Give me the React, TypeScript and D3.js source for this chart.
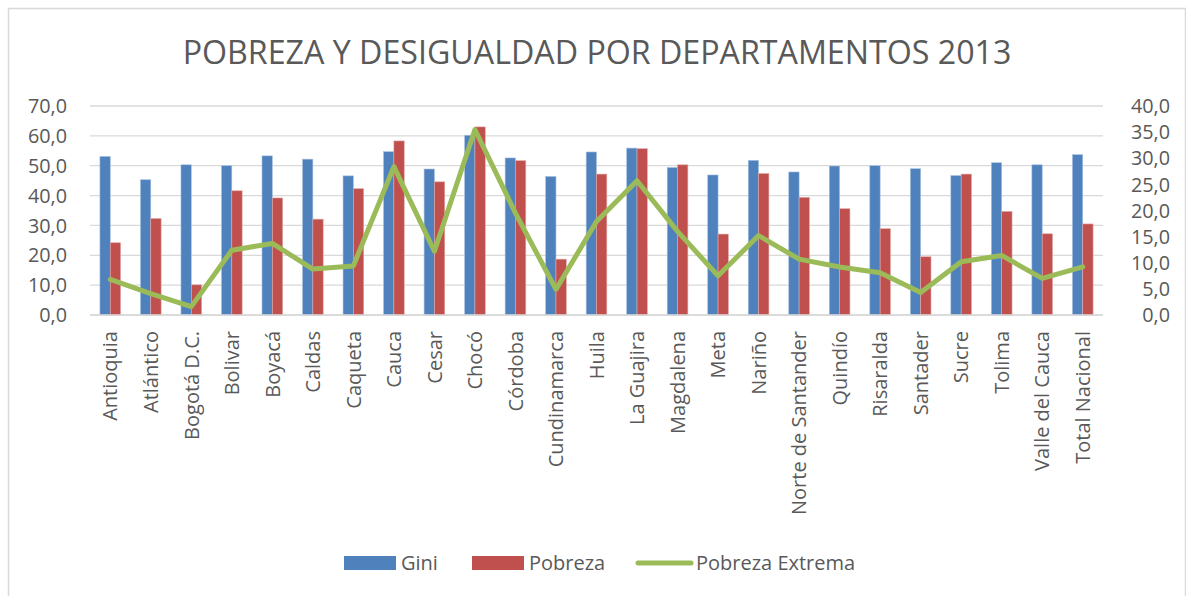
import React from "react";
import * as d3 from "d3";

const categories = [
  "Antioquia", "Atlántico", "Bogotá D.C.", "Bolivar", "Boyacá", "Caldas", "Caqueta",
  "Cauca", "Cesar", "Chocó", "Córdoba", "Cundinamarca", "Huila", "La Guajira",
  "Magdalena", "Meta", "Nariño", "Norte de Santander", "Quindío", "Risaralda",
  "Santader", "Sucre", "Tolima", "Valle del Cauca", "Total Nacional",
];
const gini = [
  53.1, 45.3, 50.3, 50.0, 53.3, 52.2, 46.6, 54.7, 48.9, 60.2, 52.6, 46.4, 54.6,
  55.9, 49.4, 46.9, 51.8, 47.9, 49.9, 50.0, 49.0, 46.7, 51.0, 50.3, 53.7,
];
const pobreza = [
  24.2, 32.3, 10.1, 41.6, 39.2, 32.1, 42.3, 58.3, 44.6, 63.0, 51.7, 18.7, 47.2,
  55.7, 50.3, 27.1, 47.4, 39.4, 35.6, 28.9, 19.5, 47.2, 34.7, 27.2, 30.5,
];
const pobrezaExtrema = [
  6.8, 4.1, 1.6, 12.4, 13.7, 8.8, 9.4, 28.4, 12.2, 35.5, 19.5, 4.9, 17.9, 25.7,
  16.0, 7.5, 15.2, 10.7, 9.2, 8.1, 4.3, 10.2, 11.4, 7.0, 9.2,
];
const leftTicks = [0, 10, 20, 30, 40, 50, 60, 70];
const rightTicks = [0, 5, 10, 15, 20, 25, 30, 35, 40];

const W = 1186;
const H = 596;
const FONT = "'Open Sans', 'Noto Sans', sans-serif";
const TXT = "#595959";
const BLUE = "#4f81bd";
const RED = "#c0504d";
const GREEN = "#9bbb59";

const fmt = (v: number) => v.toFixed(1).replace(".", ",");

export default function App() {
  const x = d3.scaleBand<string>().domain(categories).range([90, 1103]);
  const yL = d3.scaleLinear().domain([0, 70]).range([315, 106]);
  const yR = d3.scaleLinear().domain([0, 40]).range([315, 106]);
  const bw = x.bandwidth() * 0.255;
  const cx = (c: string) => (x(c) as number) + x.bandwidth() / 2;

  const line = d3
    .line<number>()
    .x((_, i) => cx(categories[i]))
    .y((d) => yR(d));

  return (
    <svg width={W} height={H} style={{ display: "block", position: "absolute", left: 0, top: 0 }}>
      <rect x={0} y={0} width={W} height={H} fill="#fff" />
      <rect x={8.5} y={8.5} width={1177} height={600} fill="none" stroke="#d9d9d9" strokeWidth={1.5} />
      <text x={597} y={64} textAnchor="middle" fontFamily={FONT} fontSize={32.2} fill={TXT}>
        POBREZA Y DESIGUALDAD POR DEPARTAMENTOS 2013
      </text>

      {leftTicks.map((t) => (
        <g key={"g" + t}>
          <line x1={90} x2={1103} y1={yL(t)} y2={yL(t)} stroke="#d9d9d9" strokeWidth={1.3} />
          <text x={67} y={yL(t)} dy="0.36em" textAnchor="end" fontFamily={FONT} fontSize={19.8} fill={TXT}>
            {fmt(t)}
          </text>
        </g>
      ))}
      {rightTicks.map((t) => (
        <text key={"r" + t} x={1170} y={yR(t)} dy="0.36em" textAnchor="end" fontFamily={FONT} fontSize={19.8} fill={TXT}>
          {fmt(t)}
        </text>
      ))}

      {categories.map((c, i) => (
        <g key={c}>
          <rect x={cx(c) - bw} y={yL(gini[i])} width={bw} height={yL(0) - yL(gini[i])} fill={BLUE} stroke="#a7c0de" strokeWidth={0.6} />
          <rect x={cx(c)} y={yL(pobreza[i])} width={bw} height={yL(0) - yL(pobreza[i])} fill={RED} stroke="#e0a8a6" strokeWidth={0.6} />
          <text
            transform={`translate(${cx(c)},331) rotate(-90)`}
            dy="0.36em"
            textAnchor="end"
            fontFamily={FONT}
            fontSize={20}
            fill={TXT}
          >
            {c}
          </text>
        </g>
      ))}

      <line x1={90} x2={1103} y1={315} y2={315} stroke="#d9d9d9" strokeWidth={1.5} />

      <path d={line(pobrezaExtrema) ?? ""} fill="none" stroke={GREEN} strokeWidth={5} strokeLinejoin="round" strokeLinecap="round" />

      <g fontFamily={FONT} fontSize={20} fill={TXT}>
        <rect x={344} y={556} width={52} height={14} fill={BLUE} />
        <text x={401} y={563} dy="0.36em">Gini</text>
        <rect x={472} y={556} width={52} height={14} fill={RED} />
        <text x={529} y={563} dy="0.36em">Pobreza</text>
        <line x1={638} x2={691} y1={563} y2={563} stroke={GREEN} strokeWidth={5} strokeLinecap="round" />
        <text x={696} y={563} dy="0.36em">Pobreza Extrema</text>
      </g>
    </svg>
  );
}
